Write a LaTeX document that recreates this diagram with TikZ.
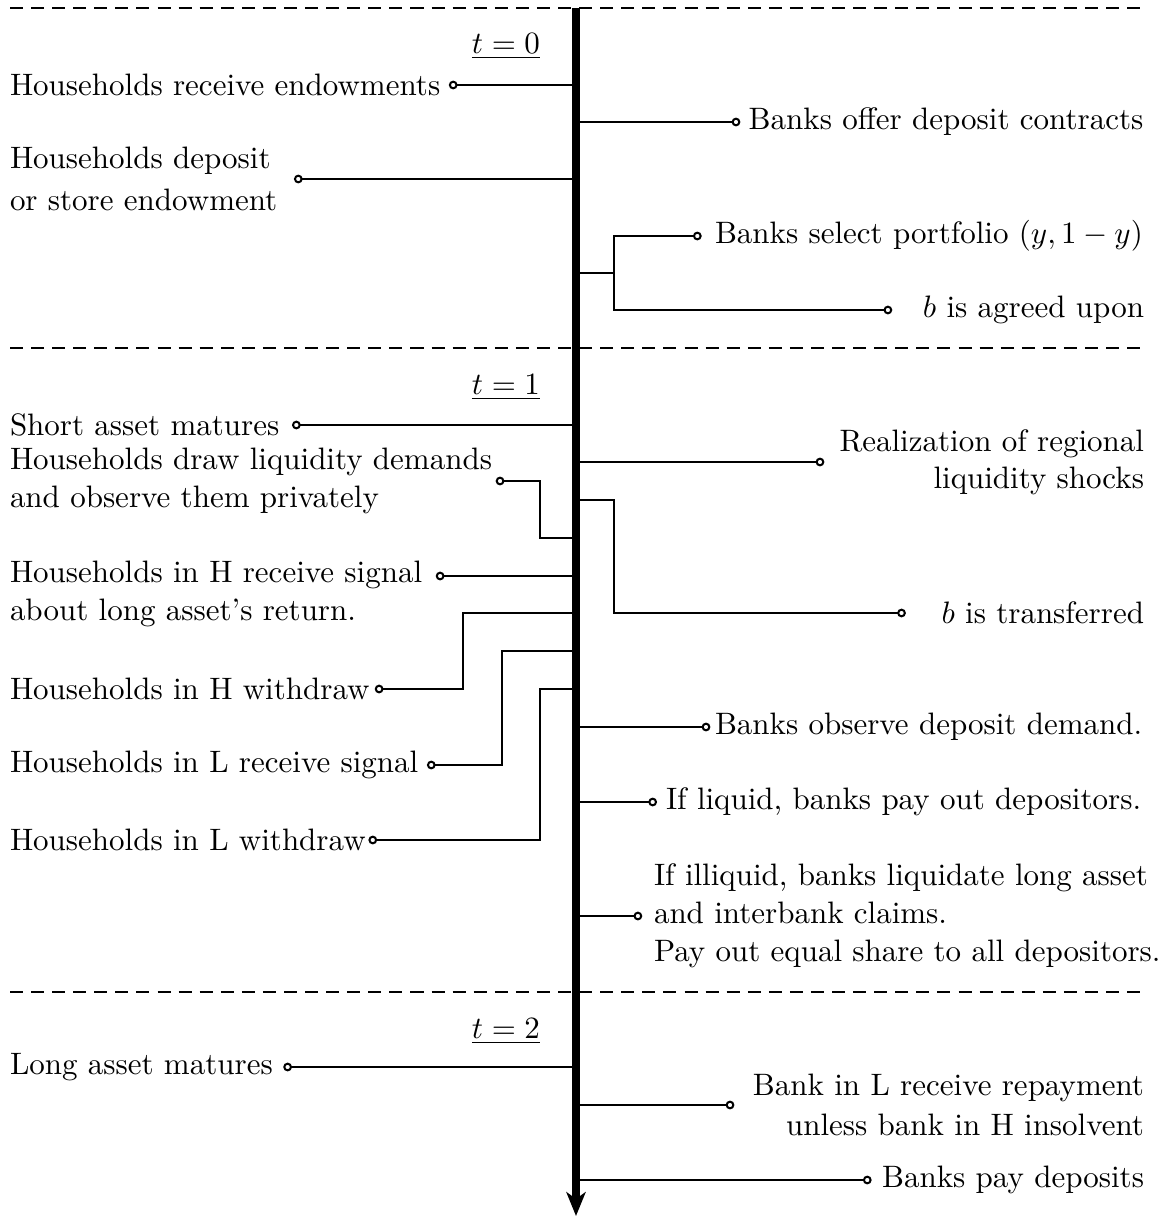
\documentclass[tikz,border=0pt]{standalone}
\usetikzlibrary{arrows.meta}
\begin{document}
\begin{tikzpicture}[x=0.3226pt,y=-0.3226pt,
  txt/.style={inner sep=0pt, outer sep=0pt, font=\fontsize{10}{12}\selectfont},
  conn/.style={line width=0.65pt, -{Circle[open,length=2.8pt,width=2.8pt]}},
  plain/.style={line width=0.65pt},
  sepline/.style={line width=0.8pt, dash pattern=on 4.2pt off 2.6pt},
  axisline/.style={line width=2.4pt, -{Stealth[length=7.7pt,width=6.2pt,inset=2.2pt]}},
  tlab/.style={inner sep=0pt, outer sep=0pt, anchor=base east}]
\useasboundingbox (0,0) rectangle (1167,1216);

% period separators
\draw[sepline] (10,8) -- (1144,8);
\draw[sepline] (10,348) -- (1144,348);
\draw[sepline] (10,992) -- (1144,992);

% time axis
\coordinate (top) at (576,8);
\coordinate (bot) at (576,1216);

% period labels
\node[tlab] (t0) at (540,53) {\underline{$t=0$}};
\node[tlab] (t1) at (540,394) {\underline{$t=1$}};
\node[tlab] (t2) at (540,1038) {\underline{$t=2$}};

% axis anchor points
\coordinate (aL1) at (576,85);
\coordinate (aR1) at (576,122);
\coordinate (aL2) at (576,179);
\coordinate (aR2) at (576,273);
\coordinate (br2) at (614,273);
\coordinate (aL3) at (576,425);
\coordinate (aR3) at (576,462);
\coordinate (aR4) at (576,500);
\coordinate (aL4) at (576,538);
\coordinate (aL5) at (576,576);
\coordinate (aL6) at (576,613);
\coordinate (aL7) at (576,651);
\coordinate (aL8) at (576,689);
\coordinate (aR5) at (576,727);
\coordinate (aR6) at (576,802);
\coordinate (aR7) at (576,916);
\coordinate (aL9) at (576,1067);
\coordinate (aR8) at (576,1105);
\coordinate (aR9) at (576,1180);

% left texts
\node[txt, anchor=west] (L1) at (10,85) {Households receive endowments};
\node[txt, anchor=west, align=left, font=\fontsize{10}{13.3}\selectfont] (L2) at (10,179) {Households deposit\\or store endowment};
\node[txt, anchor=west] (L3) at (10,425) {Short asset matures};
\node[txt, anchor=west, align=left] (L4) at (10,481) {Households draw liquidity demands\\and observe them privately};
\node[txt, anchor=west, align=left] (L5) at (10,594) {Households in H receive signal\\about long asset's return.};
\node[txt, anchor=west] (L6) at (10,689) {Households in H withdraw};
\node[txt, anchor=west] (L7) at (10,765) {Households in L receive signal};
\node[txt, anchor=west] (L8) at (10,840) {Households in L withdraw};
\node[txt, anchor=west] (L9) at (10,1067) {Long asset matures};

% right texts
\node[txt, anchor=west] (R1) at (748.7,122) {Banks offer deposit contracts};
\node[txt, anchor=west] (R2a) at (715,236) {Banks select portfolio $(y,1-y)$};
\node[txt, anchor=east] (R2b) at (1144,310) {$b$ is agreed upon};
\node[txt, anchor=east, align=right] (R3) at (1144,462) {Realization of regional\\liquidity shocks};
\node[txt, anchor=east] (R4) at (1144,613) {$b$ is transferred};
\node[txt, anchor=west] (R5) at (715,727) {Banks observe deposit demand.};
\node[txt, anchor=west] (R6) at (666,802) {If liquid, banks pay out depositors.};
\node[txt, anchor=west, align=left, font=\fontsize{10}{12.3}\selectfont] (R7) at (654,916) {If illiquid, banks liquidate long asset\\and interbank claims.\\Pay out equal share to all depositors.};
\node[txt, anchor=east, align=right, font=\fontsize{10}{13}\selectfont] (R8) at (1144,1105) {Bank in L receive repayment\\unless bank in H insolvent};
\node[txt, anchor=east] (R9) at (1144,1180) {Banks pay deposits};

% connectors, left side
\draw[conn, shorten >=2.8pt] (aL1) -- (L1.east);
\draw[conn, shorten >=5.4pt] (aL2) -- (aL2 -| L2.east);
\draw[conn, shorten >=4.1pt] (aL3) -- (L3.east);
\draw[conn, shorten >=1.2pt] (aL4) -- ++(-36,0) |- (L4.east);
\draw[conn, shorten >=4.4pt] (aL5) -- (aL5 -| L5.east);
\draw[conn, shorten >=1.7pt] (aL6) -- ++(-113,0) |- (L6.east);
\draw[conn, shorten >=2.8pt] (aL7) -- ++(-74,0) |- (L7.east);
\draw[conn, shorten >=0.9pt] (aL8) -- ++(-36,0) |- (L8.east);
\draw[conn, shorten >=3.4pt] (aL9) -- (L9.east);

% connectors, right side
\draw[conn, shorten >=2.7pt] (aR1) -- (R1.west);
\draw[plain] (aR2) -- (br2);
\draw[conn, shorten >=4.3pt] (br2) |- (R2a.west);
\draw[conn, shorten >=9.9pt] (br2) |- (R2b.west);
\draw[conn, shorten >=4.9pt] (aR3) -- (R3.west);
\draw[conn, shorten >=11.5pt] (aR4) -- ++(38,0) |- (R4.west);
\draw[conn, shorten >=1.5pt] (aR5) -- (R5.west);
\draw[conn, shorten >=2.9pt] (aR6) -- (R6.west);
\draw[conn, shorten >=3.8pt] (aR7) -- (R7.west);
\draw[conn, shorten >=6pt] (aR8) -- (R8.west);
\draw[conn, shorten >=3.4pt] (aR9) -- (R9.west);

% the axis itself on top
\draw[axisline] (top) -- (bot);
\end{tikzpicture}
\end{document}
